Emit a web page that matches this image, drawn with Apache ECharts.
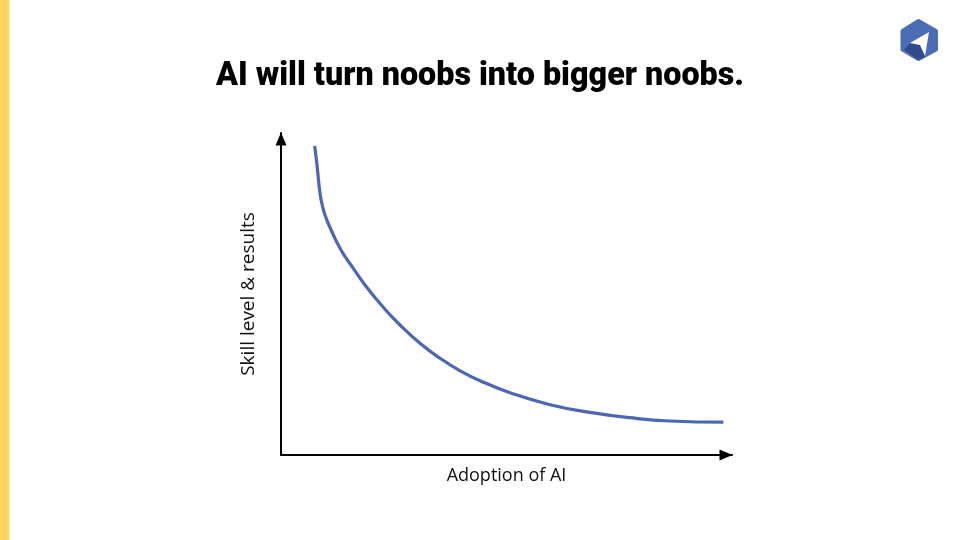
<!DOCTYPE html>
<html><head><meta charset="utf-8">
<style>html,body{margin:0;padding:0;background:#fff}#c{width:960px;height:540px}</style>
<script src="https://cdn.jsdelivr.net/npm/echarts@6/dist/echarts.min.js"></script>
</head><body><div id="c"></div>
<script>
const titleText = "AI will turn noobs into bigger noobs.";
const xName = "Adoption of AI";
const yName = "Skill level & results";
const adoption = [33.7,36,37.5,39,41,44,49,60,72.3,85.7,102.3,119,139,159,179,199,229,269,309,349,389,442.3];
const skill = [309,290,275,262,251,240,227.5,205,186.7,167.7,147.7,130,111.7,96.7,84.3,74.3,62.3,50.3,42.7,37.3,34,32.8];
const curve = adoption.map((x,i)=>[x,skill[i]]);
const chart = echarts.init(document.getElementById('c'),null,{renderer:'canvas'});
const logoHex=[[918.5,21],[936,31],[936,49.5],[918.5,59],[902.5,49.5],[902.5,31]];
const logoDark=[[904,50],[910,43],[920,45],[925,56.5],[918.5,60]];
const logoWhite=[[929,32],[910,43],[920,45],[925,56]];
chart.setOption({
  animation:false,
  backgroundColor:'#fff',
  title:{text:titleText,left:475,top:56,textAlign:'center',
    textStyle:{fontFamily:'Roboto',fontWeight:900,fontSize:32.3,color:'#000'}},
  grid:{left:281,top:133,width:451,height:322,containLabel:false},
  xAxis:{type:'value',min:0,max:451,splitLine:{show:false},axisTick:{show:false},axisLabel:{show:false},
    axisLine:{onZero:false,symbol:['none','triangle'],symbolSize:[11,13],symbolOffset:[0,-6],lineStyle:{color:'#000',width:2}},
    name:xName,nameLocation:'middle',nameGap:12,nameTextStyle:{fontFamily:'Open Sans',fontSize:18,color:'#111'}},
  yAxis:{type:'value',min:0,max:322,splitLine:{show:false},axisTick:{show:false},axisLabel:{show:false},
    axisLine:{onZero:false,symbol:['none','triangle'],symbolSize:[11,13],symbolOffset:[0,-6],lineStyle:{color:'#000',width:2}},
    name:yName,nameLocation:'middle',nameGap:23,nameTextStyle:{fontFamily:'Open Sans',fontSize:19,color:'#111'}},
  series:[{type:'line',data:curve,smooth:0.5,symbol:'none',silent:true,
    lineStyle:{color:'#4c68b4',width:3.2,cap:'butt'}}],
  graphic:[
    {type:'rect',shape:{x:0,y:0,width:9,height:540},style:{fill:'#ffd35c'},silent:true},
    {type:'rect',shape:{x:9,y:0,width:1,height:540},style:{fill:'#ffeeb8'},silent:true},
    {type:'polygon',shape:{points:logoHex},style:{fill:'#4c6cb4',stroke:'#4c6cb4',lineWidth:4,lineJoin:'round'},silent:true},
    {type:'polygon',shape:{points:logoDark},style:{fill:'#304a8e'},silent:true},
    {type:'polygon',shape:{points:logoWhite},style:{fill:'#fff'},silent:true}
  ]
});
</script></body></html>
